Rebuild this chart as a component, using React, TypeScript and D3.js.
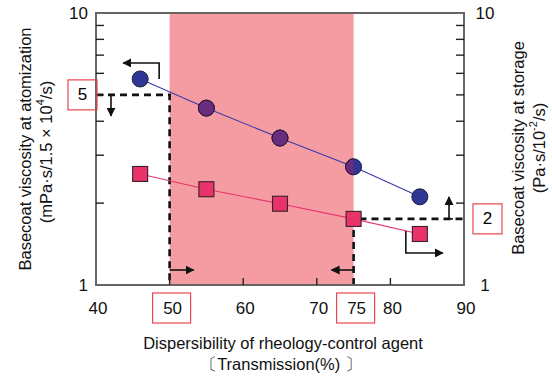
import * as d3 from "d3";

// values
const transmission = [46, 55, 65, 75, 84];
const atomization = [5.72, 4.47, 3.47, 2.72, 2.11]; // mPa·s, left axis
const storage = [2.56, 2.25, 1.99, 1.75, 1.54]; // Pa·s, right axis
const xTicks = [40, 50, 60, 70, 80, 90];
const xBoxed = [50, 75];
const yMinor = [2, 3, 4, 5, 6, 7, 8, 9];
const yLabels = [1, 10];
const goodBand = [50, 75];
const atomizationLimit = 5;
const storageLimitLabel = "2";

const W = 552;
const H = 378;
const margin = { top: 13, right: 88, bottom: 93, left: 96 };
const FONT = "Arimo, 'Liberation Sans', Arial, sans-serif";

const BLUE = "#2e3796";
const PURPLE = "#692c7e";
const PINK = "#e8336b";
const BAND = "#f59ca3";

export default function App() {
  const x = d3.scaleLinear().domain([40, 90]).range([margin.left, W - margin.right]);
  const y = d3.scaleLog().domain([1, 10]).range([H - margin.bottom, margin.top]);

  const x0 = x(40), x1 = x(90), y0 = y(1), y1 = y(10);

  const seriesLine = d3.line<number>().x((_, i) => x(transmission[i])).y(d => y(d));

  const bandX0 = x(goodBand[0]);
  const bandX1 = x(goodBand[1]);
  const limY = y(atomizationLimit);
  const stoY = y(storage[3]); // the square at 75 sits on the storage limit

  const c1x = x(transmission[0]), c1y = y(atomization[0]);
  const s5x = x(transmission[4]), s5y = y(storage[4]);

  const arrowStyle = { stroke: "#111", strokeWidth: 1.6, fill: "none" };
  const dash = { stroke: "#111", strokeWidth: 2.6, strokeDasharray: "7,5", fill: "none" };

  return (
    <svg width={W} height={H} style={{ position: "fixed", left: 0, top: 0, background: "#fff" }} fontFamily={FONT}>
      <defs>
        <marker id="ah" viewBox="0 0 10 10" refX="9" refY="5" markerWidth="9" markerHeight="9"
          markerUnits="userSpaceOnUse" orient="auto">
          <path d="M0,0 L10,5 L0,10 z" fill="#111" />
        </marker>
        <clipPath id="bandClip">
          <rect x={bandX0} y={y1} width={bandX1 - bandX0} height={y0 - y1} />
        </clipPath>
      </defs>

      {/* shaded good range */}
      <rect x={bandX0} y={y1} width={bandX1 - bandX0} height={y0 - y1} fill={BAND} />

      {/* dashed limits */}
      <path d={`M${x0},${limY} H${bandX0} V${y0}`} style={dash} />
      <path d={`M${bandX1},${y0} V${stoY} H${x1}`} style={dash} />

      {/* frame */}
      <rect x={x0} y={y1} width={x1 - x0} height={y0 - y1} fill="none" stroke="#666" strokeWidth={2} />

      {/* minor ticks */}
      {yMinor.map(v => (
        <g key={v} stroke="#222" strokeWidth={1.4}>
          <line x1={x0} x2={x0 + 8} y1={y(v)} y2={y(v)} />
          <line x1={x1} x2={x1 - 8} y1={y(v)} y2={y(v)} />
        </g>
      ))}
      {xTicks.slice(1, -1).map(v => (
        <line key={v} x1={x(v)} x2={x(v)} y1={y0} y2={y0 - 7} stroke="#222" strokeWidth={1.4} />
      ))}

      {/* series lines */}
      <path d={seriesLine(atomization) || ""} stroke="#3a3aa8" strokeWidth={1.1} fill="none" />
      <path d={seriesLine(storage) || ""} stroke={PINK} strokeWidth={1.1} fill="none" />

      {/* markers */}
      {atomization.map((v, i) => (
        <circle key={i} cx={x(transmission[i])} cy={y(v)} r={8} fill={BLUE} stroke="#1c1c40" strokeWidth={1} />
      ))}
      <g clipPath="url(#bandClip)">
        {atomization.map((v, i) => (
          <circle key={i} cx={x(transmission[i])} cy={y(v)} r={8} fill={PURPLE} stroke="#2a1430" strokeWidth={1} />
        ))}
      </g>
      {storage.map((v, i) => (
        <rect key={i} x={x(transmission[i]) - 7.5} y={y(v) - 7.5} width={15} height={15}
          fill={PINK} stroke="#3a2028" strokeWidth={1.1} />
      ))}

      {/* arrows */}
      <path d={`M${c1x + 19},${c1y} V${c1y - 16} H${c1x - 17}`} style={arrowStyle} markerEnd="url(#ah)" />
      <path d={`M${x0 + 12},${limY} H${x0 + 18}`} style={arrowStyle} />
      <path d={`M${x0 + 15},${limY} V${limY + 21}`} style={arrowStyle} markerEnd="url(#ah)" />
      <path d={`M${bandX0},${y0 - 15} H${bandX0 + 24}`} style={arrowStyle} markerEnd="url(#ah)" />
      <path d={`M${bandX1},${y0 - 15} H${bandX1 - 22}`} style={arrowStyle} markerEnd="url(#ah)" />
      <path d={`M${s5x - 14},${s5y - 3} V${s5y + 19} H${s5x + 23}`} style={arrowStyle} markerEnd="url(#ah)" />
      <path d={`M${x1 - 19},${stoY} H${x1 - 11}`} style={arrowStyle} />
      <path d={`M${x1 - 15},${stoY} V${stoY - 22}`} style={arrowStyle} markerEnd="url(#ah)" />

      {/* y labels */}
      {yLabels.map(v => (
        <g key={v} fontSize={17} fill="#111">
          <text x={x0 - 8} y={y(v)} textAnchor="end" dominantBaseline="central">{v}</text>
          <text x={x1 + 21} y={y(v)} textAnchor="middle" dominantBaseline="central">{v}</text>
        </g>
      ))}
      <rect x={x0 - 28} y={limY - 15} width={29} height={30} fill="none" stroke="#e8454c" strokeWidth={1.2} />
      <text x={x0 - 13.5} y={limY} textAnchor="middle" dominantBaseline="central" fontSize={17}>{atomizationLimit}</text>
      <rect x={x1 + 9} y={stoY - 15} width={29} height={30} fill="none" stroke="#e8454c" strokeWidth={1.2} />
      <text x={x1 + 23.5} y={stoY} textAnchor="middle" dominantBaseline="central" fontSize={17}>{storageLimitLabel}</text>

      {/* x labels */}
      {xTicks.filter(v => !xBoxed.includes(v)).map(v => (
        <text key={v} x={x(v) + 2} y={y0 + 23} textAnchor="middle" dominantBaseline="central" fontSize={17} fill="#111">{v}</text>
      ))}
      {xBoxed.map(v => (
        <g key={v}>
          <rect x={x(v) + 2 - 19} y={y0 + 8} width={38} height={30} fill="none" stroke="#e8454c" strokeWidth={1.2} />
          <text x={x(v) + 3} y={y0 + 23} textAnchor="middle" dominantBaseline="central" fontSize={17} fill="#111">{v}</text>
        </g>
      ))}

      {/* axis titles */}
      <text x={283} y={343} textAnchor="middle" dominantBaseline="central" fontSize={16.5} fill="#111">
        Dispersibility of rheology-control agent
      </text>
      <text x={281} y={364} textAnchor="middle" dominantBaseline="central" fontSize={16.5} fill="#111">
        〔Transmission(%) 〕
      </text>
      <g transform="translate(25,149) rotate(-90)">
        <text textAnchor="middle" dominantBaseline="central" fontSize={16.5} fill="#111">
          Basecoat viscosity at atomization
        </text>
      </g>
      <g transform="translate(46,152) rotate(-90)">
        <text textAnchor="middle" dominantBaseline="central" fontSize={16.5} fill="#111">
          (mPa·s/1.5 × 10<tspan fontSize={11} dy={-6}>4</tspan><tspan dy={6}>/s)</tspan>
        </text>
      </g>
      <g transform="translate(518,148) rotate(-90)">
        <text textAnchor="middle" dominantBaseline="central" fontSize={16.5} fill="#111">
          Basecoat viscosity at storage
        </text>
      </g>
      <g transform="translate(539,148) rotate(-90)">
        <text textAnchor="middle" dominantBaseline="central" fontSize={16.5} fill="#111">
          (Pa·s/10<tspan fontSize={11} dy={-6}>-2</tspan><tspan dy={6}>/s)</tspan>
        </text>
      </g>
    </svg>
  );
}
